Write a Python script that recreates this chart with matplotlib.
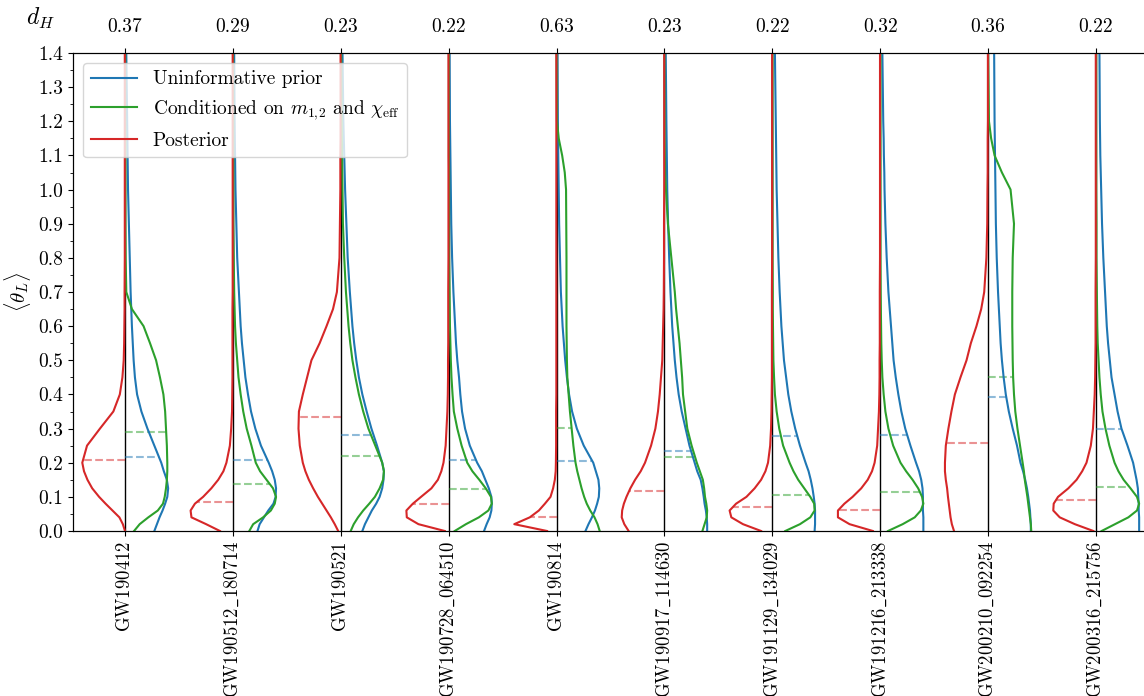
import numpy as np
import matplotlib
matplotlib.use('Agg')
import matplotlib.pyplot as plt
from matplotlib.ticker import MultipleLocator

plt.rcParams['font.family'] = ['cmr10', 'DejaVu Serif']
plt.rcParams['mathtext.fontset'] = 'cm'
plt.rcParams['axes.unicode_minus'] = False
plt.rcParams['axes.formatter.use_mathtext'] = True
plt.rcParams['font.size'] = 14

# events and top-axis d_H values
events = ['GW190412', 'GW190512_180714', 'GW190521', 'GW190728_064510', 'GW190814',
          'GW190917_114630', 'GW191129_134029', 'GW191216_213338', 'GW200210_092254',
          'GW200316_215756']
d_h = [0.37, 0.29, 0.23, 0.22, 0.63, 0.23, 0.22, 0.32, 0.36, 0.22]

# <theta_L> grid on which the density profiles were read
y_grid = [0, .02, .04, .06, .08, .10, .125, .15, .175, .20, .25, .30, .35, .40, .45, .50,
          .55, .60, .65, .70, .80, .90, 1.0, 1.05, 1.1, 1.15, 1.2, 1.4]

# density profiles (normalised to peak = 1)
prior_width = [
    [.68, .74, .80, .87, .93, .98, 1.0, .97, .90, .84, .68, .52, .38, .28, .23, .20, .18, .16, .145, .13, .11, .09, .07, .065, .06, .055, .05, .03],
    [.57, .62, .72, .82, .94, .99, 1.0, .97, .91, .83, .65, .52, .42, .35, .29, .25, .21, .18, .16, .14, .10, .08, .06, .055, .05, .045, .04, .03],
    [.50, .56, .64, .72, .82, .90, .96, .99, 1.0, .96, .84, .71, .60, .50, .42, .36, .31, .27, .24, .21, .16, .13, .10, .09, .08, .07, .06, .04],
    [.82, .88, .95, .99, 1.0, .99, .93, .85, .77, .66, .49, .38, .31, .27, .24, .20, .17, .15, .13, .11, .08, .06, .05, .045, .04, .035, .03, .02],
    [.67, .74, .82, .89, .94, .98, .99, .97, .91, .85, .63, .47, .36, .29, .24, .20, .17, .14, .12, .10, .08, .06, .05, .045, .04, .035, .03, .02],
    [.99, .99, .98, .96, .93, .91, .88, .84, .76, .70, .58, .49, .40, .33, .28, .24, .21, .18, .16, .14, .11, .085, .065, .06, .055, .05, .045, .03],
    [.98, .99, .99, .99, .98, .96, .93, .89, .84, .77, .64, .53, .44, .37, .32, .27, .24, .21, .19, .17, .14, .12, .10, .095, .09, .085, .08, .06],
    [1.0, 1.0, 1.0, .99, .99, .99, .98, .95, .90, .83, .70, .58, .49, .42, .36, .31, .28, .25, .22, .19, .15, .12, .10, .095, .085, .08, .07, .05],
    [.99, .99, .98, .97, .95, .93, .90, .86, .81, .75, .67, .57, .48, .41, .36, .32, .29, .27, .25, .23, .20, .18, .17, .165, .16, .155, .15, .14],
    [1.0, 1.0, 1.0, .99, .99, .98, .97, .94, .90, .86, .73, .59, .50, .43, .36, .32, .28, .25, .23, .21, .17, .14, .12, .11, .10, .095, .09, .08],
]
cond_width = [
    [.21, .34, .54, .76, .88, .92, .95, .97, .98, .98, .97, .95, .93, .89, .81, .72, .58, .43, .16, .03, .015, .01, .01, .01, .01, .01, .005, .005],
    [.38, .47, .70, .88, .97, 1.0, .93, .78, .63, .53, .43, .32, .24, .18, .13, .10, .07, .05, .04, .03, .02, .01, .01, .01, .01, .01, .01, .005],
    [.23, .30, .40, .52, .66, .79, .90, .98, 1.0, .96, .80, .64, .52, .42, .34, .27, .22, .18, .15, .12, .08, .05, .04, .035, .03, .025, .02, .01],
    [.14, .40, .70, .92, 1.0, .98, .86, .71, .55, .43, .30, .20, .12, .09, .065, .05, .04, .03, .025, .02, .01, .01, .01, .01, .005, .005, .005, .005],
    [1.0, .95, .88, .78, .70, .64, .58, .53, .48, .44, .39, .35, .31, .28, .25, .24, .235, .23, .23, .23, .23, .225, .22, .19, .13, .05, .01, 0],
    [.88, .93, .98, .99, .97, .94, .92, .89, .82, .75, .63, .53, .48, .43, .41, .38, .35, .31, .27, .24, .16, .08, .035, .015, .01, .005, .005, 0],
    [.30, .64, .88, .98, .97, .88, .74, .60, .49, .40, .25, .16, .10, .06, .04, .025, .02, .015, .01, .01, .005, .005, .005, .005, .005, .005, .005, .005],
    [.18, .52, .80, .94, 1.0, .97, .88, .75, .60, .47, .30, .19, .12, .08, .05, .035, .025, .02, .015, .01, .005, .005, .005, .005, .005, .005, .005, .005],
    [1.0, .99, .97, .95, .93, .91, .88, .85, .83, .80, .74, .68, .63, .60, .58, .57, .565, .56, .56, .56, .57, .60, .52, .32, .15, .07, .02, 0],
    [.13, .44, .75, .95, 1.0, .95, .80, .64, .52, .43, .31, .22, .15, .11, .08, .06, .04, .03, .025, .02, .01, .01, .005, .005, .005, .005, .005, .005],
]
post_width = [
    [0, .05, .13, .29, .45, .60, .76, .87, .95, .99, .88, .58, .27, .12, .06, .03, .02, .015, .01, .01, .005, .005, .005, .005, .005, .005, .005, .005],
    [.30, .62, .96, .98, .88, .69, .50, .34, .22, .15, .07, .04, .02, .015, .01, .01, .01, .01, .01, .005, .005, .005, .005, .005, .005, .005, .005, .005],
    [.06, .14, .23, .33, .43, .53, .64, .74, .82, .88, .95, .98, .97, .88, .78, .68, .49, .33, .18, .09, .03, .02, .01, .01, .01, .005, .005, .005],
    [.09, .70, .97, .98, .83, .64, .40, .25, .17, .12, .07, .05, .03, .02, .015, .015, .01, .01, .01, .01, .005, .005, .005, .005, .005, .005, .005, .005],
    [.22, .98, .62, .41, .27, .14, .08, .04, .02, .015, .01, .01, .01, .005, .005, .005, .005, .005, .005, .005, .005, .005, .005, .005, .005, .005, .005, .005],
    [.83, .93, .99, .98, .94, .88, .79, .68, .55, .45, .31, .21, .15, .11, .08, .05, .04, .03, .02, .015, .01, .01, .005, .005, .005, .005, .005, .005],
    [.26, .68, .95, .99, .84, .60, .41, .26, .16, .10, .05, .03, .02, .015, .01, .01, .01, .01, .01, .01, .005, .005, .005, .005, .005, .005, .005, .005],
    [.17, .71, .98, .98, .83, .64, .44, .29, .19, .13, .07, .05, .03, .02, .015, .015, .01, .01, .01, .01, .005, .005, .005, .005, .005, .005, .005, .005],
    [.79, .84, .87, .89, .91, .93, .95, .98, 1.0, 1.0, .98, .92, .85, .77, .64, .50, .40, .27, .16, .09, .04, .02, .015, .01, .01, .01, .005, .005],
    [.06, .49, .84, .99, .98, .88, .64, .45, .32, .22, .12, .07, .05, .03, .02, .015, .01, .01, .01, .01, .005, .005, .005, .005, .005, .005, .005, .005],
]

# medians (dashed markers)
prior_median = [.218, .207, .281, .207, .205, .234, .278, .282, .393, .300]
cond_median = [.290, .139, .220, .122, .301, .218, .105, .113, .451, .130]
post_median = [.207, .084, .333, .079, .041, .116, .071, .062, .259, .091]

half_width = 0.4
c_prior, c_cond, c_post = 'tab:blue', 'tab:green', 'tab:red'

fig = plt.figure(figsize=(11.44, 6.96), dpi=100)
ax = fig.add_axes([73 / 1144, 1 - 531 / 696, 1 - 73 / 1144, (531 - 53) / 696])

y = np.array(y_grid)
pos = np.arange(len(events))
ax.vlines(pos, 0, 1.4, color='black', lw=1.0, zorder=1)

series = [
    (prior_width, prior_median, c_prior, +1, 'Uninformative prior'),
    (cond_width, cond_median, c_cond, +1, r'Conditioned on $m_{1,\!2}$ and $\chi_{\rm eff}$'),
    (post_width, post_median, c_post, -1, 'Posterior'),
]
for widths, medians, color, sign, label in series:
    for i in pos:
        w = np.asarray(widths[i])
        ax.plot(i + sign * half_width * w, y, color=color, lw=1.5, zorder=3,
                label=label if i == 0 else None)
        wm = half_width * np.interp(medians[i], y, w)
        ax.plot([i, i + sign * wm], [medians[i], medians[i]], color=color,
                ls='--', lw=1.5, alpha=0.5, zorder=2)

ax.set_xlim(-0.482, 9.445)
ax.set_ylim(0, 1.4)
ax.set_xticks(pos)
ax.set_xticklabels([r'$\mathrm{' + e.replace('_', r'\_') + '}$' for e in events],
                   rotation=90, fontsize=13.5)
ax.set_yticks(np.arange(0, 1.41, 0.1))
ax.set_yticklabels(['%.1f' % v for v in np.arange(0, 1.41, 0.1)])
ax.yaxis.set_minor_locator(MultipleLocator(0.05))
ax.set_ylabel(r'$\langle\theta_L\rangle$', fontsize=15)
ax.spines['right'].set_visible(False)

top = ax.twiny()
top.set_xlim(ax.get_xlim())
top.set_xticks(pos)
top.set_xticklabels(['%.2f' % v for v in d_h])
top.tick_params(axis='x', pad=9)
top.spines['right'].set_visible(False)
fig.text(40 / 1144, 1 - 18 / 696, r'$d_H$', ha='center', va='center', fontsize=17)

ax.legend(loc='upper left', handlelength=2.4, bbox_to_anchor=(0.0, 1.0))

fig.savefig('out.png', dpi=100)
